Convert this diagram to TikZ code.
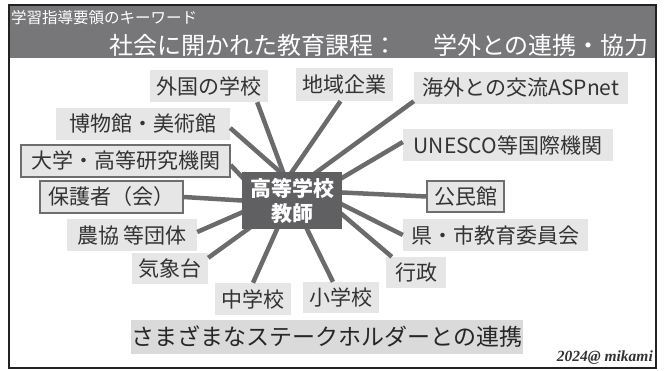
\documentclass[tikz,border=0pt]{standalone}
\usepackage{fontspec}
\setmainfont{Noto Sans CJK JP}
\newfontfamily\sigfont{Liberation Serif}
\usetikzlibrary{calc}
\definecolor{hdrgray}{HTML}{77777A}
\definecolor{framec}{HTML}{222222}
\definecolor{lblfill}{HTML}{E6E6E6}
\definecolor{boxline}{HTML}{6E6E6E}
\definecolor{txtdark}{HTML}{333333}
\definecolor{linkgray}{HTML}{6B6B6B}
\definecolor{tcfill}{HTML}{606063}
\begin{document}
\begin{tikzpicture}[x=1pt,y=-1pt,
  lbl/.style={fill=lblfill, text=txtdark, font=\fontsize{21}{24}\selectfont, inner sep=0pt, minimum height=32pt, align=center},
  bx/.style={lbl, draw=boxline, line width=1.2pt},
  link/.style={draw=linkgray, line width=4.5pt, shorten >=-5pt}]
\useasboundingbox (0,0) rectangle (668,370);
% header
\fill[hdrgray] (9,5) rectangle (656,58);
\node[anchor=west, text=white, inner sep=1pt, font=\fontsize{15.5}{18}\selectfont] (kw) at (10,18) {学習指導要領のキーワード};
\node[anchor=east, text=white, inner sep=1pt, font=\fontsize{24}{28}\selectfont] (ttl) at (650,45) {社会に開かれた教育課程：\hspace{12pt}　学外との連携・協力};
% labels
\node[lbl, minimum width=118pt] (gaikoku) at (209,86) {外国の学校};
\node[lbl, minimum width=97pt, minimum height=33pt] (chiiki) at (344.5,84.5) {地域企業};
\node[lbl, minimum width=214pt] (kaigai) at (521,88) {海外との交流ASPnet};
\node[lbl, minimum width=174pt] (hakubutsu) at (143,124) {博物館・美術館};
\node[lbl, minimum width=210pt] (unesco) at (508,145) {UNESCO等国際機関};
\node[bx, minimum width=209pt] (daigaku) at (125.5,161) {大学・高等研究機関};
\node[bx, minimum width=143pt] (hogosha) at (111.5,197) {保護者（会）};
\node[bx, minimum width=77pt, minimum height=31pt] (kouminkan) at (465.5,196.5) {公民館};
\node[lbl, minimum width=130pt] (noukyo) at (132,235) {農協 等団体};
\node[lbl, minimum width=185pt] (ken) at (495.5,235) {県・市教育委員会};
\node[lbl, minimum width=76pt, minimum height=31pt] (kishou) at (170,268.5) {気象台};
\node[lbl, minimum width=60pt, minimum height=31pt] (gyousei) at (416,272.5) {行政};
\node[lbl, minimum width=76pt] (chuu) at (253,299) {中学校};
\node[lbl, minimum width=76pt, minimum height=31pt] (shou) at (341,297.5) {小学校};
% center node placeholder coordinates
\node[minimum width=100pt, minimum height=57pt, inner sep=0pt] (tcpos) at (292,200.5) {};
% links
\draw[link] ($(gaikoku.south east)+(-11,0)$) -- ($(tcpos.north)+(-9,0)$);
\draw[link] ($(chiiki.south)+(-4,0)$) -- (tcpos.north);
\draw[link] ($(kaigai.south west)+(0,-3)$) -- ($(tcpos.north)+(25,0)$);
\draw[link] ($(hakubutsu.east)+(0,4)$) -- ($(tcpos.north)+(-12,0)$);
\draw[link] ($(unesco.west)+(0,-3)$) -- ($(tcpos.north east)+(0,6)$);
\draw[link] ($(daigaku.east)+(0,4)$) -- ($(tcpos.north west)+(0,5)$);
\draw[link] (hogosha.east) -- (tcpos.west);
\draw[link] (kouminkan.west) -- ($(tcpos.east)+(0,-8)$);
\draw[link] ($(noukyo.east)+(0,-3)$) -- ($(tcpos.west)+(0,12)$);
\draw[link] (ken.west) -- ($(tcpos.east)+(0,4)$);
\draw[link] ($(kishou.north east)+(0,5)$) -- ($(tcpos.south west)+(6,0)$);
\draw[link] ($(gyousei.north west)+(6,0)$) -- ($(tcpos.east)+(0,14)$);
\draw[link] (chuu.north) -- ($(tcpos.south)+(-15,0)$);
\draw[link] ($(shou.north)+(-8,0)$) -- ($(tcpos.south)+(15,0)$);
% center node
\node[fill=tcfill, text=white, font=\fontsize{21}{25}\selectfont\bfseries, minimum width=100pt, minimum height=57pt, inner sep=0pt, align=center] (tc) at (292,200.5) {高等学校\\教師};
% bottom
\node[lbl, minimum width=392pt, minimum height=34pt, fill=lblfill!95!black!100, text=black!85, font=\fontsize{23}{26}\selectfont] (stake) at (327,337) {さまざまなステークホルダーとの連携};
\node[anchor=south east, inner sep=0pt, text=txtdark, font=\sigfont\bfseries\itshape\fontsize{15.5}{17}\selectfont] (sig) at (653,365) {2024@ mikami};
% frame
\draw[framec, line width=2pt] (9,5) rectangle (656,368);
\end{tikzpicture}
\end{document}
